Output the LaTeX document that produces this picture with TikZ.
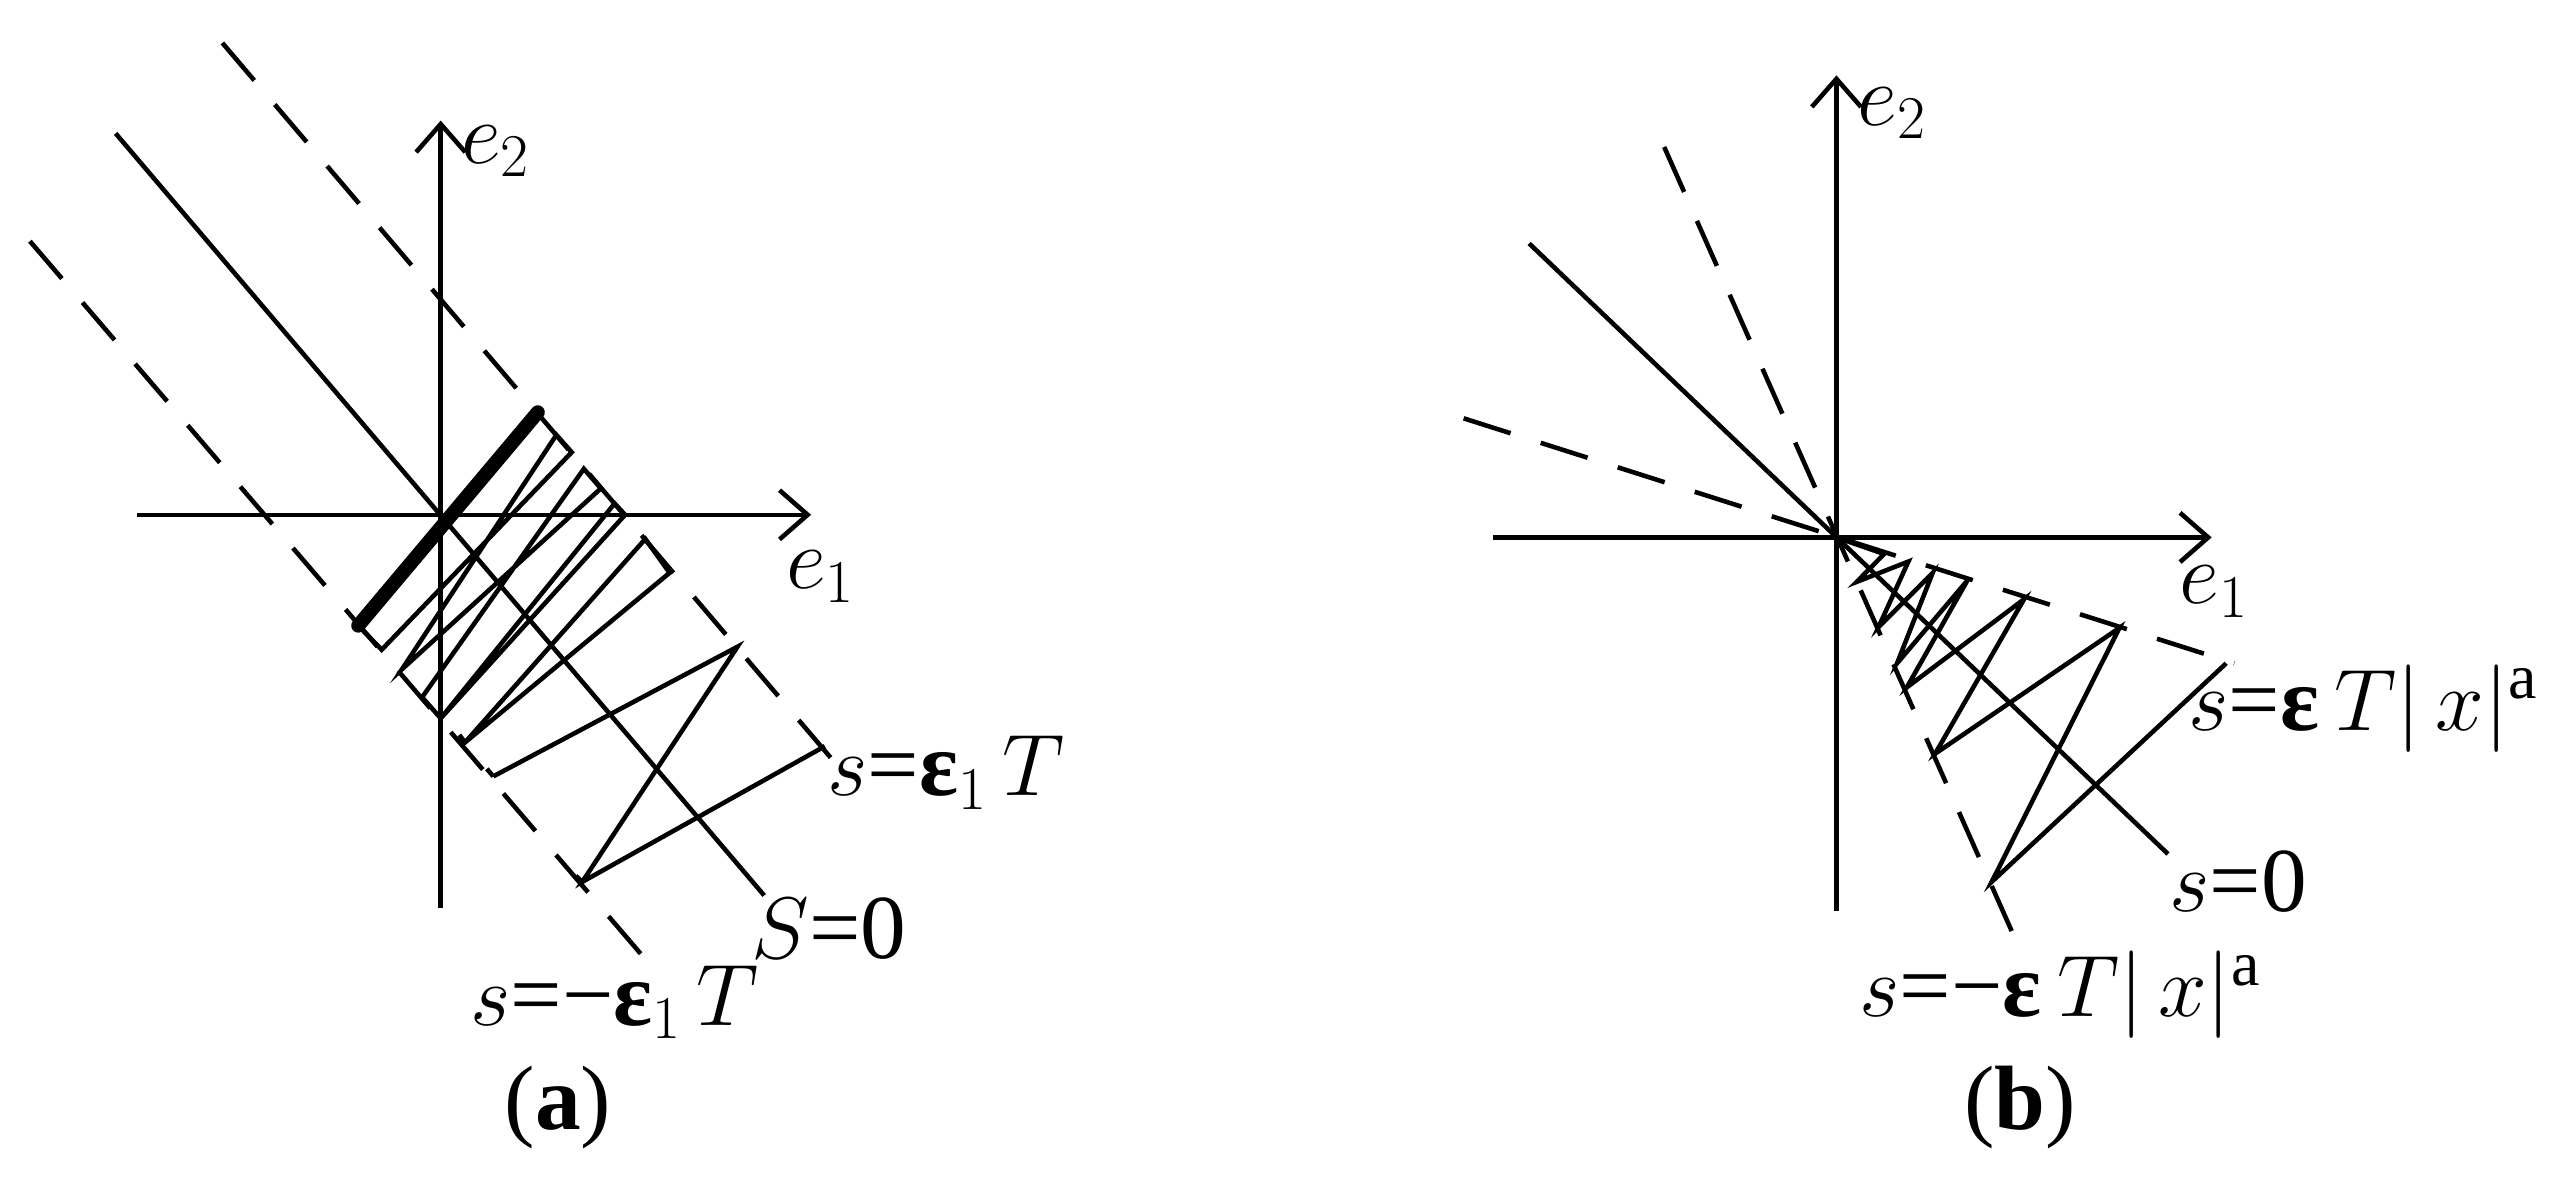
\documentclass[tikz,border=0pt]{standalone}
\usepackage{fontspec}
\setmainfont{Liberation Serif}
\usetikzlibrary{arrows.meta}
\begin{document}
\begin{tikzpicture}[line width=1.3pt,
  dsh/.style={dashed,dash pattern=on 14pt off 9pt},
  lbl/.style={font=\fontsize{26}{30}\selectfont,inner sep=0pt},
  ax/.style={-{Straight Barb[length=8pt,width=14pt]}}]
\useasboundingbox (0,0) rectangle (25.53,11.83);
% left panel
\begin{scope}[shift={(0,11.83)},x=0.00809cm,y=-0.00754cm]
\coordinate (O) at (545,683);
\coordinate (ybot) at (545,1205); \coordinate (ytop) at (545,160);
\coordinate (xl) at (170,683); \coordinate (xr) at (1003,683);
\draw[ax] (ybot) -- (ytop);
\draw[ax] (xl) -- (xr);
\node[lbl] (e2) at (613,200) {$e_2$};
\node[lbl] (e1) at (1015,765) {$e_1$};
\coordinate (s1) at (143,177); \coordinate (s2) at (945,1188);
\draw (s1) -- (s2);
\coordinate (u1) at (275,57); \coordinate (u2) at (1035,1015);
\draw[dsh] (u1) -- (u2);
\coordinate (l1) at (37,320); \coordinate (l2) at (808,1285);
\draw[dsh] (l1) -- (l2);
\coordinate (ta) at (443,830); \coordinate (tb) at (665,547);
\draw[line width=4pt,line cap=round] (ta) -- (tb);
\draw[line join=miter] (443,830) -- (472,862) -- (707,600) -- (688,577) -- (497,888) -- (743,648) -- (722,622)
  -- (522,925) -- (545,953) -- (773,683) -- (760,668) -- (545,953)
  (575,985) -- (798,715) -- (828,760) -- (575,985) -- (568,975)
  (610,1030) -- (912,858) -- (720,1170) -- (1020,990)
  (602,1020) -- (610,1030) (712,1162) -- (720,1170);
\node[lbl] (la) at (1170,1025) {$s$=\textbf{ε}$_1\,T$};
\node[lbl] (lb) at (1025,1232) {$S$=0};
\node[lbl] (lc) at (760,1330) {$s$=−\textbf{ε}$_1\,T$};
\node[lbl] (cap) at (690,1470) {(\textbf{a})};
\end{scope}
% right panel
\begin{scope}[shift={(12.76,11.83)},x=0.00809cm,y=-0.00754cm]
\coordinate (O2) at (693,713);
\draw[ax] (693,1208) coordinate (yb2) -- (693,100) coordinate (yt2);
\draw[ax] (268,713) coordinate (xl2) -- (1157,713) coordinate (xr2);
\node[lbl] (f2) at (762,150) {$e_2$};
\node[lbl] (f1) at (1160,785) {$e_1$};
\coordinate (m1) at (313,323); \coordinate (m2) at (1103,1133);
\draw (m1) -- (m2);
\coordinate (d1) at (480,195); \coordinate (d2) at (915,1248);
\draw[dsh] (d1) -- (d2);
\coordinate (d3) at (232,555); \coordinate (d4) at (1185,880);
\draw[dsh] (d3) -- (d4);
\draw (O2) -- (752,735) -- (718,772) -- (782,745) -- (745,832) -- (812,760) -- (768,880) -- (855,770)
 -- (780,912) -- (925,795) -- (815,1000) -- (1043,833) -- (885,1170) -- (1175,880);
\node[lbl] (ra) at (1345,940) {$s$=\textbf{ε}\,$T|\,x|^{\mathrm{a}}$};
\node[lbl] (rb) at (1190,1170) {$s$=0};
\node[lbl] (rc) at (970,1320) {$s$=−\textbf{ε}\,$T|\,x|^{\mathrm{a}}$};
\node[lbl] (cap2) at (920,1470) {(\textbf{b})};
\end{scope}
\end{tikzpicture}
\end{document}
